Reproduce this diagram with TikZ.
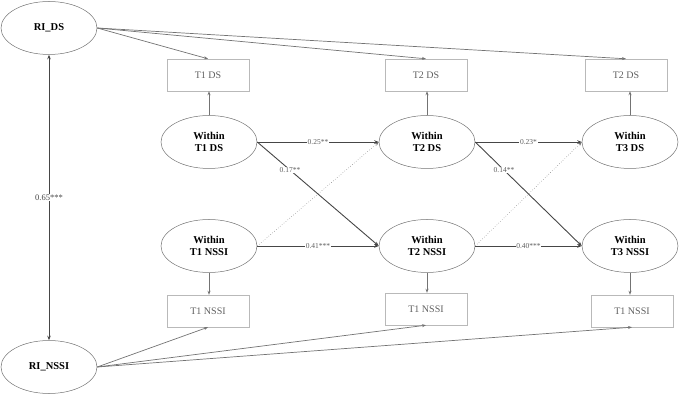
\documentclass[tikz,border=0pt]{standalone}
\usepackage{fontspec}
\setmainfont{Liberation Serif}
\usepackage{tikz}
\usetikzlibrary{arrows.meta, positioning, shapes.geometric}
\definecolor{edgec}{RGB}{70,70,70}
\definecolor{linec}{RGB}{115,115,115}
\definecolor{boxc}{RGB}{185,185,185}
\definecolor{labc}{RGB}{95,95,95}

\begin{document}
\begin{tikzpicture}[x=1pt, y=-1pt,
    latent/.style={ellipse, draw=linec, line width=0.5pt, minimum width=96pt,
      minimum height=53pt, inner sep=0pt, align=center, font=\fontsize{10.5}{11.5}\selectfont\bfseries},
    obs/.style={rectangle, draw=boxc, minimum width=82pt, minimum height=32pt,
      text=labc, font=\fontsize{10}{12}\selectfont},
    path/.style={-{Stealth[length=4.5pt, width=3.5pt]}, edgec, line width=0.9pt},
    cross/.style={-{Stealth[length=4pt, width=3pt]}, linec, line width=0.5pt, dotted},
    load/.style={-{Stealth[length=4pt, width=3pt]}, linec, line width=0.7pt},
    coef/.style={font=\fontsize{7.5}{8}\selectfont, text=labc, fill=white, inner sep=0.6pt}]
  \useasboundingbox (0,0) rectangle (680,395);
  % random intercepts
  \node[latent] (rids) at (49,28) {RI\_DS};
  \node[latent] (rins) at (49,367) {RI\_NSSI};
  \draw[{Stealth[length=4.5pt, width=3.5pt]}-{Stealth[length=4.5pt, width=3.5pt]}, edgec,
    line width=0.9pt] (rids) -- node[coef, font=\fontsize{8.5}{9}\selectfont, text=edgec]{0.65***} (rins);
  % within-person part and indicators
  \foreach \k/\x/\dx/\nx/\ny/\dl in {1/209/208/208/311/T1 DS, 2/427/426/426/309/T2 DS,
      3/630/626/632/311/T2 DS} {
    \node[latent] (wd\k) at (\x,142) {Within\\T\k\ DS};
    \node[latent] (wn\k) at (\x,246) {Within\\T\k\ NSSI};
    \node[obs] (od\k) at (\dx,75) {\dl};
    \node[obs] (on\k) at (\nx,\ny) {T1 NSSI};
    \draw[load] (wd\k.north) -- (wd\k.north |- od\k.south);
    \draw[load] (wn\k.south) -- (wn\k.south |- on\k.north);
    \draw[load] (rids.east) -- (od\k.north);
    \draw[load] (rins.east) -- (on\k.south);
  }
  % cross-lagged paths
  \foreach \a/\b/\ds/\cr/\ns in {1/2/0.25**/0.17**/0.41***, 2/3/0.23*/0.14**/0.40***} {
    \draw[cross] (wn\a.east) -- (wd\b.west);
    \draw[path] (wd\a.east) -- node[coef]{\ds} (wd\b.west);
    \draw[path] (wd\a.east) -- node[coef, pos=0.27]{\cr} (wn\b.west);
    \draw[path] (wn\a.east) -- node[coef]{\ns} (wn\b.west);
  }
\end{tikzpicture}
\end{document}
